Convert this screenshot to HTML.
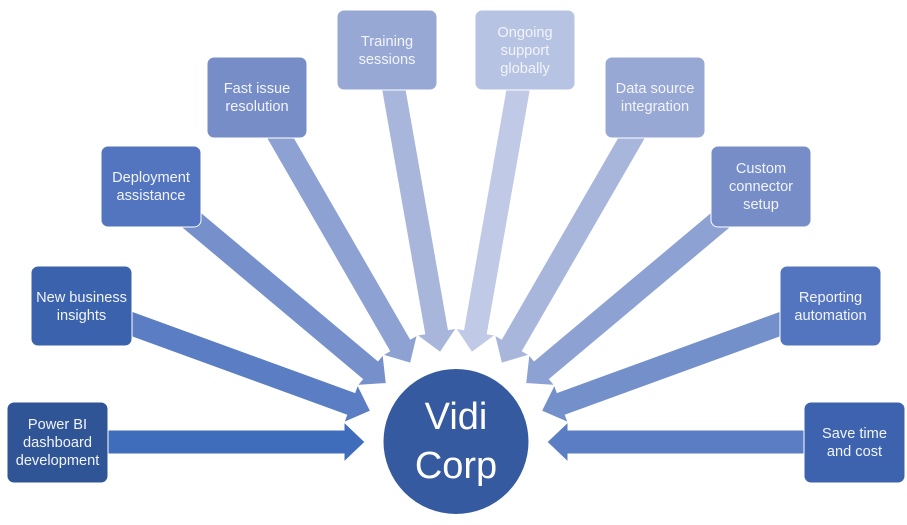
<!DOCTYPE html>
<html>
<head>
<meta charset="utf-8">
<style>
  html, body { margin: 0; padding: 0; background: #ffffff; }
  svg { display: block; }
  .t { font-family: "Liberation Sans", sans-serif; font-size: 14.6px; fill: #F2F4FA; text-anchor: middle; }
  .c { font-family: "Liberation Sans", sans-serif; font-size: 38px; fill: #FFFFFF; text-anchor: middle; }
</style>
</head>
<body>
<svg width="907" height="525" viewBox="0 0 907 525" xmlns="http://www.w3.org/2000/svg">
  <defs>
    <polygon id="arr" points="-307,-12 -21,-12 -21,-20 0,0 -21,20 -21,12 -307,12"/>
  </defs>
  <!-- arrows -->
  <g stroke="#ffffff" stroke-width="1">
    <use href="#arr" transform="translate(365,442) rotate(0)" fill="#3F6DBB"/>
    <use href="#arr" transform="translate(370.5,410.9) rotate(20)" fill="#5B7DC3"/>
    <use href="#arr" transform="translate(386.3,383.5) rotate(40)" fill="#7590CB"/>
    <use href="#arr" transform="translate(410.5,363.2) rotate(60)" fill="#8DA2D2"/>
    <use href="#arr" transform="translate(440.2,352.4) rotate(80)" fill="#A8B6DB"/>
    <use href="#arr" transform="translate(471.8,352.4) rotate(100)" fill="#C0CAE6"/>
    <use href="#arr" transform="translate(501.5,363.2) rotate(120)" fill="#A8B6DB"/>
    <use href="#arr" transform="translate(525.7,383.5) rotate(140)" fill="#8DA2D2"/>
    <use href="#arr" transform="translate(541.5,410.9) rotate(160)" fill="#7490CB"/>
    <use href="#arr" transform="translate(547,442) rotate(180)" fill="#5B7DC3"/>
  </g>

  <!-- boxes -->
  <g stroke="#ffffff" stroke-width="1">
    <rect x="7" y="402" width="101" height="81" rx="7" fill="#2F5597"/>
    <rect x="31" y="266" width="101" height="80" rx="7" fill="#3B62AD"/>
    <rect x="101" y="146" width="100" height="81" rx="7" fill="#5374BF"/>
    <rect x="207" y="57" width="100" height="81" rx="7" fill="#778DC8"/>
    <rect x="337" y="10" width="100" height="80" rx="7" fill="#98A8D4"/>
    <rect x="475" y="10" width="100" height="80" rx="7" fill="#B7C3E3"/>
    <rect x="605" y="57" width="100" height="81" rx="7" fill="#98A8D4"/>
    <rect x="711" y="146" width="100" height="81" rx="7" fill="#778DC8"/>
    <rect x="780" y="266" width="101" height="80" rx="7" fill="#5374BF"/>
    <rect x="804" y="402" width="101" height="81" rx="7" fill="#3D63AE"/>
  </g>

  <!-- box text -->
  <text class="t" x="57.5" y="429">Power BI</text>
  <text class="t" x="57.5" y="447">dashboard</text>
  <text class="t" x="57.5" y="465">development</text>

  <text class="t" x="81.5" y="302">New business</text>
  <text class="t" x="81.5" y="320">insights</text>

  <text class="t" x="151" y="182">Deployment</text>
  <text class="t" x="151" y="200">assistance</text>

  <text class="t" x="257" y="93">Fast issue</text>
  <text class="t" x="257" y="111">resolution</text>

  <text class="t" x="387" y="46">Training</text>
  <text class="t" x="387" y="64">sessions</text>

  <text class="t" x="525" y="37">Ongoing</text>
  <text class="t" x="525" y="55">support</text>
  <text class="t" x="525" y="73">globally</text>

  <text class="t" x="655" y="93">Data source</text>
  <text class="t" x="655" y="111">integration</text>

  <text class="t" x="761" y="173">Custom</text>
  <text class="t" x="761" y="191">connector</text>
  <text class="t" x="761" y="209">setup</text>

  <text class="t" x="830.5" y="302">Reporting</text>
  <text class="t" x="830.5" y="320">automation</text>

  <text class="t" x="854.5" y="438">Save time</text>
  <text class="t" x="854.5" y="456">and cost</text>

  <!-- center circle -->
  <circle cx="456" cy="441.5" r="73" fill="#355A9F" stroke="#ffffff" stroke-width="1"/>
  <text class="c" x="456" y="429">Vidi</text>
  <text class="c" x="456" y="478">Corp</text>
</svg>
</body>
</html>
